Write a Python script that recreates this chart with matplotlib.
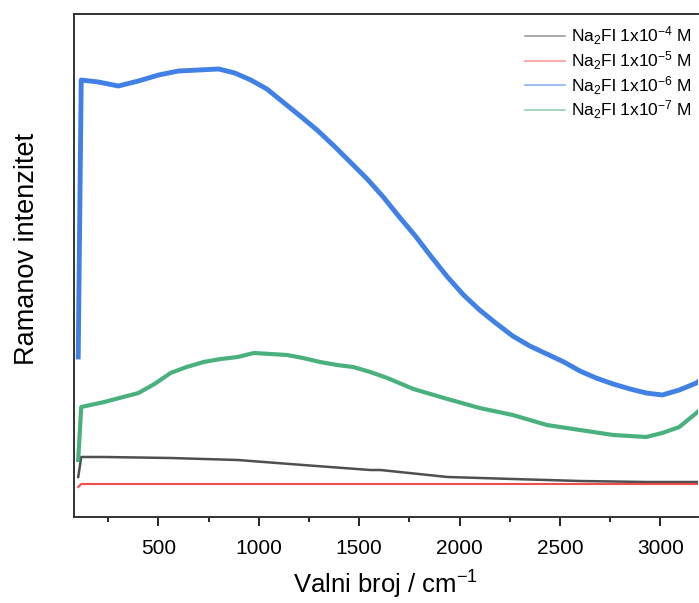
import matplotlib
matplotlib.use("Agg")
import matplotlib.pyplot as plt
from matplotlib.lines import Line2D
from matplotlib.ticker import MultipleLocator

plt.rcParams['font.family'] = ['Liberation Sans', 'DejaVu Sans']
plt.rcParams['mathtext.fontset'] = 'custom'
plt.rcParams['mathtext.rm'] = 'Liberation Sans'
plt.rcParams['mathtext.it'] = 'Liberation Sans:italic'
plt.rcParams['mathtext.default'] = 'regular'

# wavenumber (cm-1) and intensity (arb. units)
wn_blue = [100, 115, 200, 300, 400, 500, 600, 700, 800, 880, 960, 1040, 1120, 1200,
           1290, 1380, 1460, 1540, 1620, 1700, 1780, 1860, 1940, 2020, 2100, 2180,
           2265, 2350, 2435, 2520, 2600, 2680, 2765, 2850, 2930, 3010, 3095, 3180, 3250]
blue = [160, 437, 435, 431, 436, 442, 446, 447, 448, 444, 437, 428, 415, 402,
        387, 370, 354, 338, 320, 300, 281, 260, 240, 222, 207, 194,
        181, 171, 163, 155, 146, 139, 133, 128, 124, 122, 127, 134, 145]

wn_green = [100, 115, 230, 400, 480, 560, 640, 725, 810, 895, 975, 1060, 1140, 1220,
            1305, 1390, 1470, 1555, 1640, 1770, 1940, 2100, 2265, 2435, 2600, 2765,
            2930, 3010, 3095, 3180, 3250]
green = [57, 110, 115, 124, 133, 144, 150, 155, 158, 160, 164, 163, 162, 159,
         155, 152, 150, 145, 139, 128, 118, 109, 102, 92, 87, 82,
         80, 84, 90, 104, 117]

wn_black = [100, 115, 230, 560, 895, 1220, 1555, 1605, 1940, 2265, 2600, 2930, 3180, 3250]
black = [40, 60, 60, 59, 57, 52, 47, 47, 40, 38, 36, 35, 35, 35]

wn_red = [100, 115, 560, 1220, 1940, 2600, 3250]
red = [30, 33, 33, 33, 33, 33, 33]

labels = ['Na$_2$Fl 1x10$^{-4}$ M', 'Na$_2$Fl 1x10$^{-5}$ M',
          'Na$_2$Fl 1x10$^{-6}$ M', 'Na$_2$Fl 1x10$^{-7}$ M']
colors = ['#3c3c3c', '#f03a3a', '#1f6ae0', '#2aa468']

fig = plt.figure(figsize=(6.99, 6.03), dpi=100)
ax = fig.add_axes([74 / 699, 86 / 603, 624 / 699, 503 / 603])

ax.plot(wn_black, black, color=colors[0], lw=1.8, alpha=0.9)
ax.plot(wn_red, red, color=colors[1], lw=1.5, alpha=0.9)
ax.plot(wn_blue, blue, color=colors[2], lw=3.5, alpha=0.85)
ax.plot(wn_green, green, color=colors[3], lw=3, alpha=0.85)

ax.set_xlim(79, 3188)
ax.set_ylim(0, 503)
ax.xaxis.set_major_locator(MultipleLocator(500))
ax.xaxis.set_minor_locator(MultipleLocator(250))
ax.set_yticks([])
ax.tick_params(axis='x', which='major', direction='out', length=6.5, width=1.2,
               labelsize=15, pad=9)
ax.tick_params(axis='x', which='minor', direction='out', length=3.6, width=1.2)
for s in ax.spines.values():
    s.set_linewidth(1.4)
    s.set_color('#333333')
ax.spines['right'].set_visible(False)

ax.set_xlabel('Valni broj / cm$^{-1}$', fontsize=18.5, labelpad=8)
ax.set_ylabel('Ramanov intenzitet', fontsize=19.5)
ax.yaxis.set_label_coords(-0.055, 0.533)

handles = [Line2D([], [], color=c, lw=1.2, alpha=0.5) for c in colors]
fig.legend(handles, labels, loc='upper right', bbox_to_anchor=(1.012, 0.985),
           frameon=False, fontsize=12.5, handlelength=2.3, handletextpad=0.35,
           labelspacing=0.12)

fig.savefig('out.png', dpi=100)
